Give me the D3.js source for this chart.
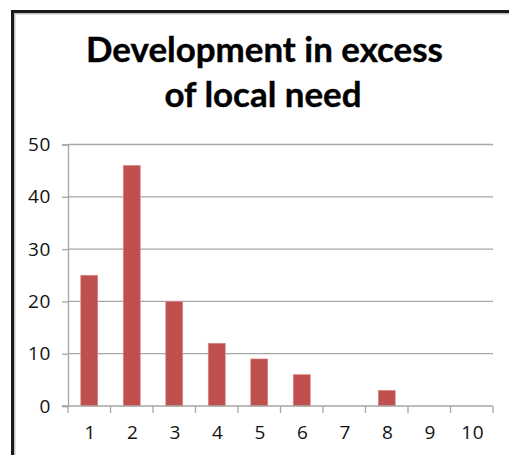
<!DOCTYPE html>
<html>
<head>
<meta charset="utf-8">
<script src="https://cdn.jsdelivr.net/npm/d3@7"></script>
<style>
  html, body { margin: 0; padding: 0; background: #fff; }
  svg { display: block; }
</style>
</head>
<body>
<svg id="chart" width="509" height="455"></svg>
<script>
// Chart data
const categories = ["1", "2", "3", "4", "5", "6", "7", "8", "9", "10"];
const values = [25, 46, 20, 12, 9, 6, 0, 3, 0, 0];
const yTicks = [0, 10, 20, 30, 40, 50];
const titleLines = ["Development in excess", "of local need"];

const svg = d3.select("#chart");
const plot = { left: 68, right: 493, top: 144.5, bottom: 406 };

// Outer frame (runs past the right and bottom edges)
svg.append("rect")
  .attr("x", 12.5).attr("y", 11.5)
  .attr("width", 520).attr("height", 470)
  .attr("fill", "none").attr("stroke", "#1a1a1a").attr("stroke-width", 3);
svg.append("rect")
  .attr("x", 14.8).attr("y", 13.8)
  .attr("width", 520).attr("height", 470)
  .attr("fill", "none").attr("stroke", "#b0b0b0").attr("stroke-width", 1.2);

// Title
const titleFont = "Lato, 'Open Sans', sans-serif";
const title = svg.append("g");
const t1 = title.append("text")
  .attr("x", 264.5).attr("y", 61.5)
  .attr("text-anchor", "middle")
  .attr("font-family", titleFont).attr("font-weight", "bold")
  .attr("font-size", 32).attr("fill", "#000")
  .attr("stroke", "#000").attr("stroke-width", 0.4)
  .text(titleLines[0]);
// size the title so the first line spans its intended width
const w0 = t1.node().getComputedTextLength();
const fs = 32 * 357 / w0;
t1.attr("font-size", fs);
title.append("text")
  .attr("x", 263).attr("y", 106.5)
  .attr("text-anchor", "middle")
  .attr("font-family", titleFont).attr("font-weight", "bold")
  .attr("font-size", fs).attr("fill", "#000")
  .attr("stroke", "#000").attr("stroke-width", 0.4)
  .text(titleLines[1]);

// Scales
const x = d3.scaleBand()
  .domain(categories)
  .range([plot.left, plot.right])
  .paddingInner(0.6)
  .paddingOuter(0.3);
const xEdges = d3.scaleBand().domain(categories).range([plot.left, plot.right]).padding(0);
const y = d3.scaleLinear().domain([0, 50]).range([plot.bottom, plot.top]);

const gridColor = "#a6a6a6";
const labelFont = "'Open Sans', sans-serif";
const labelSize = 19;

// Horizontal gridlines
svg.append("g")
  .selectAll("line")
  .data(yTicks.filter(d => d > 0))
  .join("line")
  .attr("x1", plot.left).attr("x2", plot.right)
  .attr("y1", d => y(d)).attr("y2", d => y(d))
  .attr("stroke", gridColor).attr("stroke-width", 1.3);

// Y axis
const yAxis = svg.append("g")
  .attr("transform", `translate(${plot.left},0)`)
  .call(d3.axisLeft(y).tickValues(yTicks).tickSize(6).tickPadding(11));
yAxis.select(".domain").attr("stroke", gridColor).attr("stroke-width", 1.3);
yAxis.selectAll(".tick line").attr("stroke", gridColor).attr("stroke-width", 1.3);
yAxis.selectAll(".tick text")
  .attr("font-family", labelFont).attr("font-size", labelSize)
  .attr("fill", "#111").attr("letter-spacing", 0.6);

// Bars
svg.append("g")
  .selectAll("rect")
  .data(values.map((v, i) => ({ c: categories[i], v })))
  .join("rect")
  .attr("x", d => x(d.c))
  .attr("width", x.bandwidth())
  .attr("y", d => y(d.v))
  .attr("height", d => y(0) - y(d.v))
  .attr("fill", "#C0504D")
  .attr("stroke", "#d98f8d").attr("stroke-width", 0.6);

// X axis baseline with ticks at category boundaries
svg.append("line")
  .attr("x1", plot.left - 6).attr("x2", plot.right)
  .attr("y1", y(0)).attr("y2", y(0))
  .attr("stroke", gridColor).attr("stroke-width", 1.3);
const boundaries = categories.map(c => xEdges(c)).concat([plot.right]);
svg.append("g")
  .selectAll("line")
  .data(boundaries)
  .join("line")
  .attr("x1", d => d).attr("x2", d => d)
  .attr("y1", y(0)).attr("y2", y(0) + 7)
  .attr("stroke", gridColor).attr("stroke-width", 1.3);

// X labels
svg.append("g")
  .selectAll("text")
  .data(categories)
  .join("text")
  .attr("x", d => xEdges(d) + xEdges.bandwidth() / 2 + 1)
  .attr("y", 439)
  .attr("text-anchor", "middle")
  .attr("font-family", labelFont).attr("font-size", labelSize)
  .attr("fill", "#111").attr("letter-spacing", 0.6)
  .text(d => d);
</script>
</body>
</html>
